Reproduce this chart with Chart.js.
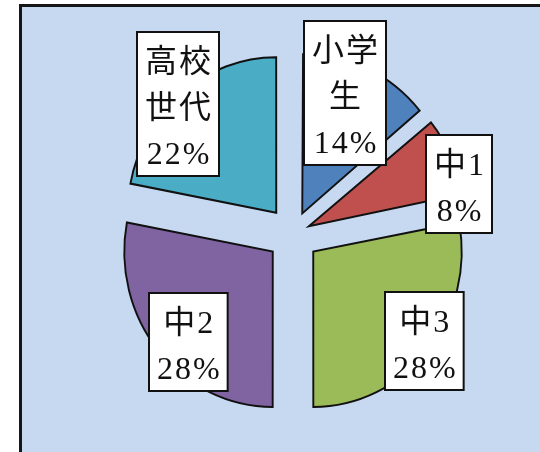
<!DOCTYPE html>
<html>
<head>
<meta charset="utf-8">
<script src="https://cdn.jsdelivr.net/npm/chart.js@4.4.0/dist/chart.umd.min.js"></script>
<style>
  html, body { margin: 0; padding: 0; background: #fff; }
  #frame {
    position: absolute; left: 19px; top: 4px; width: 521px; height: 448px;
    box-sizing: border-box; border-left: 3px solid #161616; border-top: 3px solid #161616;
    background: #c6d9f0;
  }
  #chart { position: absolute; left: 0; top: 0; }
</style>
</head>
<body>
<div id="frame"></div>
<canvas id="chart" width="540" height="452"></canvas>
<script>
// share of each age group (%)
const groups = ['小学生', '中1', '中3', '中2', '高校世代'];
const shares = [14, 8, 28, 28, 22];
const sliceColors = ['#4f81bd', '#c0504d', '#9bbb59', '#8064a2', '#4bacc6'];

const EXPLODE = 28;   // how far every slice is pulled out
const SQUEEZE_X = 0.955; // the original pie is a little narrower than tall
const LINE_H = 46;
// label box spot per slice: [angle from 12 o'clock in deg, distance as part of radius]
const labelSpots = [[19, 0.79], [75, 0.94], [129, 0.91], [222.5, 0.79], [318, 0.94]];

const total = shares.reduce((a, b) => a + b, 0);

// chart.js moves a slice by offset/4 * (2 - sin(angle)), so undo that
function sliceOffset(ctx) {
    const circ = shares[ctx.dataIndex] / total * Math.PI * 2;
    return 4 * EXPLODE / (2 - Math.sin(Math.min(Math.PI, circ)));
}

// two characters per line, like the original boxes
function wrap(name) {
    const out = [];
    for (let i = 0; i < name.length; i += 2) out.push(name.slice(i, i + 2));
    return out;
}

const boxLabels = {
    id: 'boxLabels',
    beforeDatasetsDraw(chart) {
        const ctx = chart.ctx;
        const m = chart.getDatasetMeta(0).data[0];
        ctx.save();
        ctx.translate(m.x, m.y);
        ctx.scale(SQUEEZE_X, 1);
        ctx.translate(-m.x, -m.y);
    },
    afterDatasetsDraw(chart) {
        const ctx = chart.ctx;
        ctx.restore();
        const meta = chart.getDatasetMeta(0);
        ctx.save();
        ctx.font = '32px "Liberation Serif", "Noto Sans CJK JP", serif';
        ctx.letterSpacing = '2px';
        ctx.textAlign = 'center';
        ctx.textBaseline = 'middle';
        meta.data.forEach((arc, i) => {
            const half = (arc.startAngle + arc.endAngle) / 2;
            const cx = arc.x + Math.cos(half) * EXPLODE;
            const cy = arc.y + Math.sin(half) * EXPLODE;
            const a = labelSpots[i][0] * Math.PI / 180;
            const lx = cx + Math.sin(a) * arc.outerRadius * labelSpots[i][1];
            const ly = cy - Math.cos(a) * arc.outerRadius * labelSpots[i][1];
            const lines = wrap(groups[i]).concat(shares[i] + '%');
            const w = Math.max(...lines.map(t => ctx.measureText(t).width)) + 14;
            const h = lines.length * LINE_H + 6;
            const x0 = Math.round(lx - w / 2), y0 = Math.round(ly - h / 2);
            ctx.fillStyle = '#ffffff';
            ctx.fillRect(x0, y0, w, h);
            ctx.strokeStyle = '#111';
            ctx.lineWidth = 2;
            ctx.strokeRect(x0, y0, w, h);
            ctx.fillStyle = '#111';
            lines.forEach((t, j) => ctx.fillText(t, x0 + w / 2 + 1, y0 + 3 + LINE_H * (j + 0.5) + 6));
        });
        ctx.restore();
    }
};

new Chart(document.getElementById('chart'), {
    type: 'pie',
    data: {
        labels: groups,
        datasets: [{
            data: shares,
            backgroundColor: sliceColors,
            borderColor: '#111',
            borderWidth: 2,
            borderJoinStyle: 'miter',
            offset: sliceOffset
        }]
    },
    options: {
        responsive: false,
        animation: false,
        radius: 155,
        layout: { padding: { left: 46, right: 0, top: 16, bottom: 0 } },
        plugins: {
            legend: { display: false },
            tooltip: { enabled: false }
        }
    },
    plugins: [boxLabels]
});
</script>
</body>
</html>
